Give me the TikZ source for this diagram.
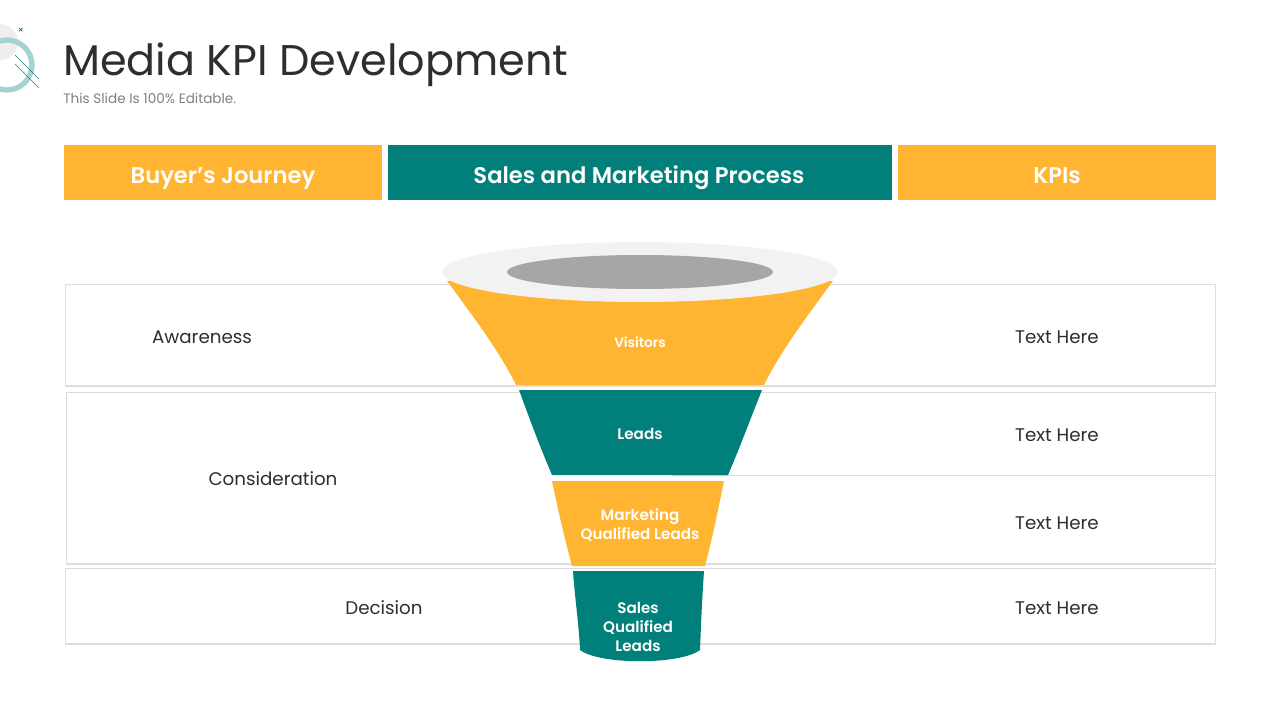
\documentclass[tikz,border=0pt]{standalone}
\usepackage{fontspec}
\setmainfont[BoldFont={Poppins SemiBold}]{Poppins}
\usetikzlibrary{positioning}
\definecolor{kpiorange}{HTML}{FFB531}
\definecolor{kpiteal}{HTML}{007F7B}
\definecolor{kpiline}{HTML}{DDDDDD}
\definecolor{kpitext}{HTML}{2E2E2E}
\tikzset{
  headbox/.style={rectangle, draw=none, anchor=base, text=white, font=\fontsize{17}{20}\selectfont\bfseries, inner sep=0pt},
  rowbox/.style={draw=kpiline, line width=0.9pt, fill=white},
  rowtext/.style={anchor=base, text=kpitext, font=\fontsize{13.7}{16}\selectfont},
  funneltext/.style={text=white, align=center, font=\fontsize{11.4}{14.2}\selectfont\bfseries},
}
\begin{document}
\begin{tikzpicture}[x=0.75pt, y=-0.75pt]
\useasboundingbox (0,0) rectangle (1280,720);
% logo
\fill [gray!13] (0,42) circle [radius=18];
\draw [color=kpiteal!35, line width=4pt] (7,65) circle [radius=25];
\draw [kpiteal!80!gray, line width=0.5pt] (15,55) -- (39,79);
\draw [kpiteal!80!gray, line width=0.5pt] (15,64) -- (39,88);
\node [text=kpiteal!70!black, inner sep=0pt, font=\fontsize{7}{7}\selectfont] (mark) at (21,31) {×};
% title
\node [anchor=base west, inner sep=0pt, text=kpitext, font=\fontsize{32.2}{36}\selectfont] (title) at (63,76) {Media KPI Development};
\node [anchor=base west, inner sep=0pt, text=gray, font=\fontsize{10.2}{11}\selectfont] (subtitle) at (63,104) {This Slide Is 100\% Editable.};
% header row
\fill [kpiorange] (64,145) rectangle (382,200);
\fill [kpiteal] (388,145) rectangle (892,200);
\fill [kpiorange] (898,145) rectangle (1216,200);
\node [headbox] (journey) at (223,184) {Buyer’s Journey};
\node [headbox] (process) at (639,184) {Sales and Marketing Process};
\node [headbox] (kpis) at (1057,184) {KPIs};
% rows
\draw [rowbox] (65.5,284.5) rectangle (1215.5,386);
\draw [rowbox] (66.5,392.5) rectangle (1215.5,564);
\draw [kpiline, line width=0.9pt] (672,475.5) -- (1215.5,475.5);
\draw [rowbox] (65.5,568.5) rectangle (1215.5,644);
\node [rowtext] (awareness) at (202,343) {Awareness};
\node [rowtext] (consideration) at (273,485) {Consideration};
\node [rowtext] (decision) at (384,614) {Decision};
\foreach \y/\name in {343/a, 441/b, 529/c, 614/d}
  \node [rowtext] (text\name) at (1057,\y) {Text Here};
% funnel
\fill [kpiorange] (447,281) .. controls (470,312) and (500,352) .. (516,385) -- (764,385) .. controls (780,352) and (810,312) .. (833,281) -- cycle;
\fill [gray!10] (640,272) ellipse (198 and 30);
\fill [gray!70] (640,272) ellipse (133 and 17);
\fill [kpiteal] (519,390) .. controls (530,420) and (540,447) .. (552,475) -- (728,475) .. controls (740,447) and (750,420) .. (762,390) -- cycle;
\fill [white] (552,476) rectangle (672,481);
\fill [kpiorange] (552,481) .. controls (558,510) and (565,540) .. (572,566) -- (705,566) .. controls (712,540) and (718,510) .. (724,481) -- cycle;
\fill [kpiteal] (573,571) .. controls (575,600) and (579,625) .. (580,650) .. controls (600,665) and (680,665) .. (700,650) .. controls (701,625) and (702,600) .. (704,571) -- cycle;
\node [funneltext, font=\fontsize{10.2}{14.2}\selectfont\bfseries] (visitors) at (640,342) {Visitors};
\node [funneltext] (leads) at (640,434) {Leads};
\node [funneltext] (mql) at (640,525) {Marketing\\Qualified Leads};
\node [funneltext] (sql) at (638,627) {Sales\\Qualified\\Leads};
\end{tikzpicture}
\end{document}
